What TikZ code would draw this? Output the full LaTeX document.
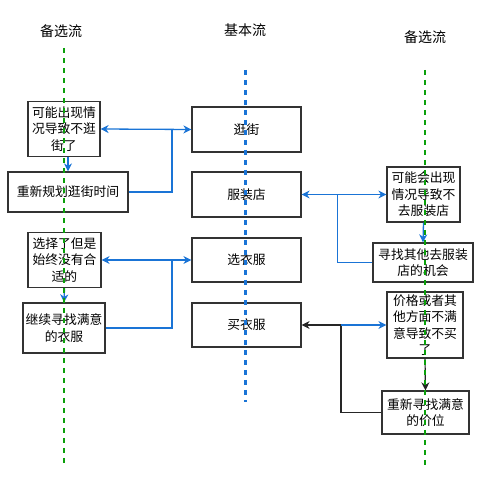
\documentclass[tikz,border=0pt]{standalone}
\usepackage{fontspec}
\setmainfont{Noto Sans CJK SC}
\usetikzlibrary{arrows.meta}
\definecolor{flowblue}{RGB}{26,116,214}
\definecolor{lanegreen}{RGB}{12,160,12}
\definecolor{boxline}{RGB}{51,51,51}

\begin{document}
\begin{tikzpicture}[
                x=1pt, y=-1pt,
                box/.style={
                        draw=boxline, line width=1.2pt,
                        inner sep=0pt, align=center,
                        font=\fontsize{12.8}{16.5}\selectfont
                    },
                title/.style={font=\fontsize{14}{16}\selectfont},
                lane/.style={line width=2.2pt, dash pattern=on 5pt off 5pt},
                link/.style={draw=flowblue, line width=1.3pt},
                dark/.style={draw=black!85, line width=1.2pt},
                tip/.style={-{Stealth[length=8pt,width=8pt,inset=2.5pt]}},
                tips/.style={{Stealth[length=8pt,width=8pt,inset=2.5pt]}-{Stealth[length=8pt,width=8pt,inset=2.5pt]}}
            ]
            \useasboundingbox (0,0) rectangle (504,486);

            \node[title] (tl) at (61,31) {备选流};
            \node[title] (tm) at (245,30) {基本流};
            \node[title] (tr) at (425,37) {备选流};

            % Left lane
            \node[box, minimum width=72, minimum height=55] (a1) at (64,129) {可能出现情\\况导致不逛\\街了};
            \node[box, minimum width=120, minimum height=40] (a2) at (68,192) {重新规划逛街时间};
            \node[box, minimum width=73, minimum height=55] (a3) at (64.5,260) {选择了但是\\始终没有合\\适的};
            \node[box, minimum width=82, minimum height=50] (a4) at (64,328) {继续寻找满意\\的衣服};

            % Basic lane
            \node[box, minimum width=109, minimum height=45] (b1) at (246.5,129.5) {逛街};
            \node[box, minimum width=109, minimum height=45] (b2) at (246.5,194.5) {服装店};
            \node[box, minimum width=109, minimum height=44] (b3) at (246.5,260) {选衣服};
            \node[box, minimum width=109, minimum height=44] (b4) at (246.5,325) {买衣服};

            % Right lane
            \node[box, minimum width=73, minimum height=55] (c1) at (423.5,194.5) {可能会出现\\情况导致不\\去服装店};
            \node[box, minimum width=100, minimum height=39] (c2) at (423,262.5) {寻找其他去服装\\店的机会};
            \node[box, minimum width=76, minimum height=66] (c3) at (425,325) {价格或者其\\他方面不满\\意导致不买\\了};
            \node[box, minimum width=87, minimum height=43] (c4) at (425.5,412.5) {重新寻找满意\\的价位};

            \coordinate (j1) at (172,129);
            \coordinate (j3) at (172,260);
            \coordinate (j2) at (337,194.5);
            \coordinate (j4) at (341,325);

            \draw[link, tip] ([xshift=4pt]a1.south) -- ([xshift=4pt]a1.south |- a2.north);
            \draw[link, tip] (a3.south) -- (a4.north);
            \draw[link, tips] (a1.east) -- (b1.west);
            \draw[link] (a2.east) -| (j1);
            \draw[link, tips] (a3.east) -- (b3.west);
            \draw[link] (a4.east) -| (j3);

            \draw[link, tips] (b2.east) -- (c1.west);
            \draw[link, line width=1pt] (c2.west) -| (j2);
            \draw[link, tip] (c1.south) -- (c2.north);

            \draw[dark, tip] (c4.west) -| (j4) -- (b4.east);
            \draw[link, tip] (j4) -- (c3.west);
            \draw[dark, tip] (c3.south) -- (c4.north);

            % Lifelines on top
            \draw[lane, draw=lanegreen] (64,48) -- (64,467);
            \draw[lane, draw=flowblue] (245.5,70) -- (245.5,402);
            \draw[lane, draw=lanegreen] (425,70) -- (425,467);

        \end{tikzpicture}
\end{document}
